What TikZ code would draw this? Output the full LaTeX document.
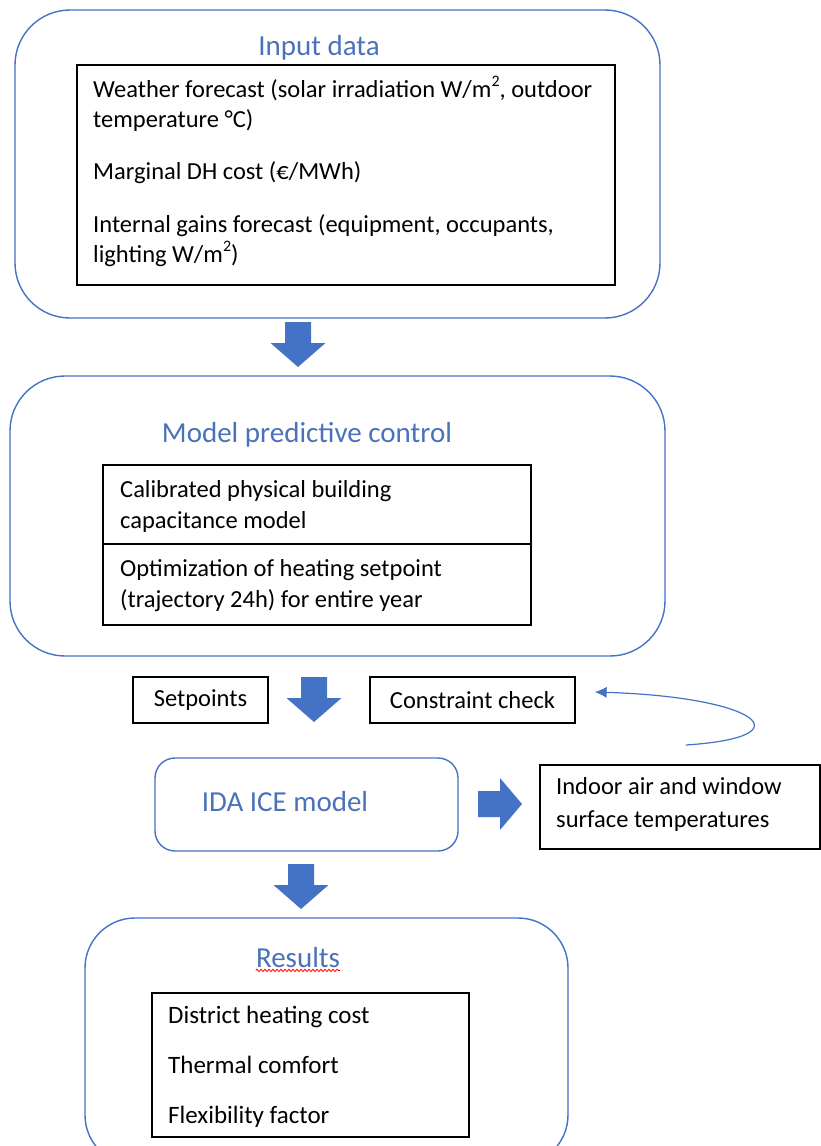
\documentclass[tikz,border=0pt]{standalone}
\usepackage{fontspec}
\setmainfont{Carlito}
\usepackage{xcolor}
\usepackage{tikz}
\usetikzlibrary{positioning}
\usetikzlibrary{calc}
\usetikzlibrary{arrows.meta}
\usetikzlibrary{decorations.pathmorphing}

\definecolor{flowblue}{HTML}{4472C4}
\definecolor{titleblue}{HTML}{4A72B8}
\newcommand{\sqm}{m\raisebox{0.42em}{\fontsize{16}{16}\selectfont 2}}

\tikzset{
  groupbox/.style={draw=flowblue, line width=1.4pt, rounded corners=55pt, inner sep=0pt},
  listbox/.style={draw=black, line width=1.3pt, inner sep=0pt},
  grouptitle/.style={text=titleblue, inner sep=0pt, font=\fontsize{29}{32}\selectfont},
  listtext/.style={anchor=base west, align=left, inner sep=0pt, font=\fontsize{24.5}{30}\selectfont},
  feedback/.style={draw=flowblue, line width=1.2pt, -{Latex[length=12pt,width=11pt]}},
  blockdown/.pic={\fill[flowblue] (-13,0) -- (13,0) -- (13,-21) -- (27.5,-21) -- (0,-45) -- (-27.5,-21) -- (-13,-21) -- cycle;},
  blockright/.pic={\fill[flowblue] (0,13) -- (22,13) -- (22,26) -- (44,0) -- (22,-26) -- (22,-13) -- (0,-13) -- cycle;}
}

\begin{document}
\begin{tikzpicture}[x=1pt, y=1pt]
\useasboundingbox (0,0) rectangle (821,-1146);

% input data
\node[groupbox, minimum width=645pt, minimum height=308pt] (input) at (337.5,-164) {};
\node[grouptitle] (inputtitle) at (319,-48) {Input data};
\node[listbox, minimum width=538pt, minimum height=220pt] (inputlist) at (346,-175) {};
\node[listtext] (inputtext) at (93,-262) {Weather forecast (solar irradiation W/\sqm, outdoor\\temperature °C)\\[22pt]Marginal DH cost (€/MWh)\\[23pt]Internal gains forecast (equipment, occupants,\\lighting W/\sqm)};

\pic at (298,-322) {blockdown};

% model predictive control
\node[groupbox, minimum width=655pt, minimum height=280pt] (mpc) at (337.5,-516) {};
\node[grouptitle] (mpctitle) at (307,-435) {Model predictive control};
\node[listbox, minimum width=428pt, minimum height=79pt] (model) at (317,-504.5) {};
\node[listbox, minimum width=428pt, minimum height=81pt] (optim) at (317,-584.5) {};
\node[listtext, font=\fontsize{24.5}{31}\selectfont] (modeltext) at (120,-528) {Calibrated physical building\\capacitance model};
\node[listtext, font=\fontsize{24.5}{31}\selectfont] (optimtext) at (120,-607) {Optimization of heating setpoint\\(trajectory 24h) for entire year};

% simulation
\node[listbox, minimum width=135pt, minimum height=46pt, font=\fontsize{24.5}{28}\selectfont] (setpoints) at (200.5,-700) {Setpoints};
\pic at (314,-677) {blockdown};
\node[listbox, minimum width=205pt, minimum height=46pt, font=\fontsize{24.5}{28}\selectfont] (check) at (472.5,-700) {Constraint check};

\node[groupbox, rounded corners=20pt, minimum width=303pt, minimum height=93pt] (ida) at (306.5,-804.5) {};
\node[grouptitle] (idatitle) at (285,-802) {IDA ICE model};
\pic at (478,-804) {blockright};
\node[listbox, minimum width=280pt, minimum height=84pt] (indoor) at (680,-807) {};
\node[listtext, font=\fontsize{24.5}{33}\selectfont] (indoortext) at (556,-827) {Indoor air and window\\surface temperatures};

\coordinate (loopstart) at (686,-745);
\draw[feedback] (loopstart) .. controls (808,-737) and (758,-697) .. ($(check.east)+(19,8)$);

\pic at (301,-864) {blockdown};

% results
\node[groupbox, rounded corners=50pt, minimum width=483pt, minimum height=247pt] (results) at (326.5,-1041.5) {};
\node[grouptitle] (resultstitle) at (298,-958) {Results};
\draw[red, line width=0.8pt, decorate, decoration={snake, amplitude=1.2pt, segment length=4pt}] ($(resultstitle.south west)+(0,-2)$) -- ($(resultstitle.south east)+(0,-2)$);
\node[listbox, minimum width=317pt, minimum height=144pt] (resultslist) at (310.5,-1065) {};
\node[listtext, font=\fontsize{25}{50}\selectfont] (resultstext) at (168,-1123) {District heating cost\\Thermal comfort\\Flexibility factor};

\end{tikzpicture}
\end{document}
